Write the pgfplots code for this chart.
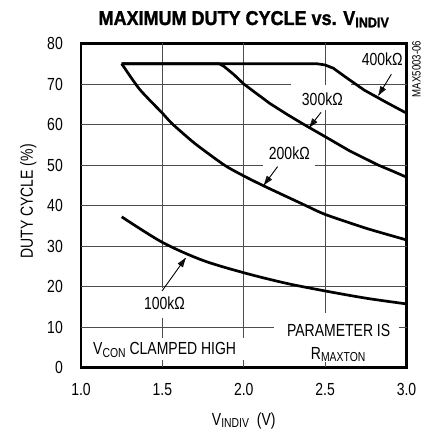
\documentclass[border=0pt]{standalone}
\usepackage{fontspec}
\setmainfont{Liberation Sans}
\newfontfamily\titlefont{Liberation Sans Bold}[FakeBold=1.5]
\usepackage{graphicx}
\usepackage{pgfplots}
\pgfplotsset{compat=1.18}
\newcommand\lab{\fontsize{17.5}{20}\selectfont}
\newcommand\nr[1]{\scalebox{0.8}[1]{#1}}
\newcommand\sub[1]{\raisebox{-2.5pt}{\fontsize{13}{13}\selectfont #1}}
% arrowhead made of stroked segments, tapering from the tip #1 along the unit vector (#2,#3)
\newcommand\taper[3]{%
  \foreach \k [evaluate=\k as \kk using \k+1, evaluate=\k as \w using (\k+0.6)*0.72] in {0,...,8}
    {\draw[line width=\w pt, line cap=butt] ([shift={(#2*\k pt,#3*\k pt)}]#1) -- ([shift={(#2*\kk pt,#3*\kk pt)}]#1);}%
}
\begin{document}
\begin{tikzpicture}
\useasboundingbox (-81pt,-62.5pt) rectangle (346pt,367.5pt);
\begin{axis}[
 at={(0,0)}, anchor=south west,
 scale only axis, width=325.5pt, height=324pt,
 xmin=1, xmax=3, ymin=0, ymax=80,
 xtick={1,1.5,2,2.5,3}, ytick={0,10,20,30,40,50,60,70,80},
 xticklabels={\nr{1.0},\nr{1.5},\nr{2.0},\nr{2.5},\nr{3.0}},
 yticklabels={\nr{0},\nr{10},\nr{20},\nr{30},\nr{40},\nr{50},\nr{60},\nr{70},\nr{80}},
 major tick length=0pt,
 axis line style={line width=2.5pt},
 tick label style={font=\lab},
 xticklabel style={anchor=north, inner sep=0pt, yshift=-16pt},
 yticklabel style={anchor=east, inner sep=0pt, xshift=-18pt},
 clip=false,
]
% grid lines, broken where the labels sit
\draw[black!70, line width=0.7pt]
  (axis cs:1.5,0) -- (axis cs:1.5,1.85)
  (axis cs:1.5,7.3) -- (axis cs:1.5,12.1)
  (axis cs:1.5,19.6) -- (axis cs:1.5,80)
  (axis cs:2,0) -- (axis cs:2,1.85)
  (axis cs:2,7.3) -- (axis cs:2,80)
  (axis cs:2.5,0) -- (axis cs:2.5,1.4)
  (axis cs:2.5,13.5) -- (axis cs:2.5,63.6)
  (axis cs:2.5,69.7) -- (axis cs:2.5,80)
  (axis cs:1,10) -- (axis cs:2.185,10)
  (axis cs:2.951,10) -- (axis cs:3,10)
  (axis cs:1,20) -- (axis cs:3,20)
  (axis cs:1,30) -- (axis cs:3,30)
  (axis cs:1,40) -- (axis cs:3,40)
  (axis cs:1,50) -- (axis cs:2.117,50)
  (axis cs:2.438,50) -- (axis cs:3,50)
  (axis cs:1,60) -- (axis cs:3,60)
  (axis cs:1,70) -- (axis cs:2.29,70)
  (axis cs:2.66,70) -- (axis cs:3,70);
% 100k
\addplot[line width=2.7pt, smooth, tension=0.5] coordinates {
(1.25,37.2) (1.5,30.9) (1.745,26.5) (2.0,23.4) (2.26,20.8) (2.5,18.9) (2.753,17.1) (3.0,15.7)};
% 200k
\addplot[line width=2.7pt, smooth, tension=0.4] coordinates {
(1.25,75) (1.36,68.7) (1.5,62.8) (1.56,60.2) (1.7,55.3) (1.88,50) (2.0,47.3) (2.125,44.8) (2.38,40) (2.5,37.8) (2.75,34.4) (3.0,31.5)};
% 300k
\addplot[line width=2.7pt, line join=round] coordinates {
(1.25,75) (1.85,75) (1.88,74.3) (1.94,72.3) (2.0,70) (2.1,67) (2.16,65.2) (2.27,62.4) (2.37,60) (2.5,57) (2.65,53.5) (2.825,50) (2.92,48.4) (3.0,47)};
% 400k
\addplot[line width=2.7pt, line join=round] coordinates {
(1.25,75) (2.45,75) (2.5,74.7) (2.55,73.9) (2.64,71.3) (2.74,68.5) (2.87,65.6) (3.0,62.8)};

\coordinate (l400) at (axis cs:2.851,74.5);
\coordinate (a400s) at (axis cs:2.907,72.4);
\coordinate (a400e) at (axis cs:2.828,67.2);
\coordinate (l300) at (axis cs:2.483,64.8);
\coordinate (a300s) at (axis cs:2.475,63.0);
\coordinate (a300e) at (axis cs:2.403,59.3);
\coordinate (l200) at (axis cs:2.28,51.4);
\coordinate (a200s) at (axis cs:2.208,49.6);
\coordinate (a200e) at (axis cs:2.125,45.1);
\coordinate (l100) at (axis cs:1.513,14.4);
\coordinate (a100s) at (axis cs:1.498,18.9);
\coordinate (a100e) at (axis cs:1.642,27.0);
\coordinate (lvcon) at (axis cs:1.514,3.1);
\coordinate (lpar) at (axis cs:2.583,7.6);
\coordinate (lrmax) at (axis cs:2.58,2.0);
\coordinate (ltitle) at (axis cs:2,80);
\coordinate (lx) at (axis cs:2,0);
\coordinate (ly) at (axis cs:1,41);
\coordinate (lmax) at (axis cs:3,73.7);
\end{axis}
\tikzset{lbl/.style={inner sep=1.5pt, anchor=base, font=\lab}}
\node[lbl] at (l400) {\nr{400kΩ}};
\node[lbl] at (l300) {\nr{300kΩ}};
\node[lbl] at (l200) {\nr{200kΩ}};
\node[lbl] at (l100) {\nr{100kΩ}};
\node[lbl] at (lvcon) {\nr{V\sub{CON} CLAMPED HIGH}};
\node[lbl] at (lpar) {\nr{PARAMETER IS}};
\node[lbl] at (lrmax) {\nr{R\sub{MAXTON}}};
\draw[line width=0.9pt] (a400s) -- (a400e);
\draw[line width=0.9pt] (a300s) -- (a300e);
\draw[line width=0.9pt] (a200s) -- (a200e);
\draw[line width=0.9pt] (a100s) -- (a100e);
\taper{a400e}{0.522}{0.854}
\taper{a300e}{0.615}{0.789}
\taper{a200e}{0.595}{0.802}
\taper{a100e}{-0.581}{-0.814}

\node[anchor=base] at ([yshift=18.5pt]ltitle) {\scalebox{0.9}[1]{\titlefont\fontsize{20}{24}\selectfont MAXIMUM DUTY CYCLE vs. V\raisebox{-2.3pt}{\fontsize{14}{14}\selectfont INDIV}}};
\node[anchor=base, font=\lab] at ([yshift=-57.5pt]lx) {\nr{V\sub{INDIV}\ \ (V)}};
\node[anchor=base, font=\lab, rotate=90] at ([xshift=-48pt]ly) {\nr{DUTY CYCLE (\%)}};
\node[anchor=center, font=\fontsize{12}{12}\selectfont, rotate=90] at ([xshift=10pt]lmax) {\nr{MAX5003-06}};
\end{tikzpicture}
\end{document}
